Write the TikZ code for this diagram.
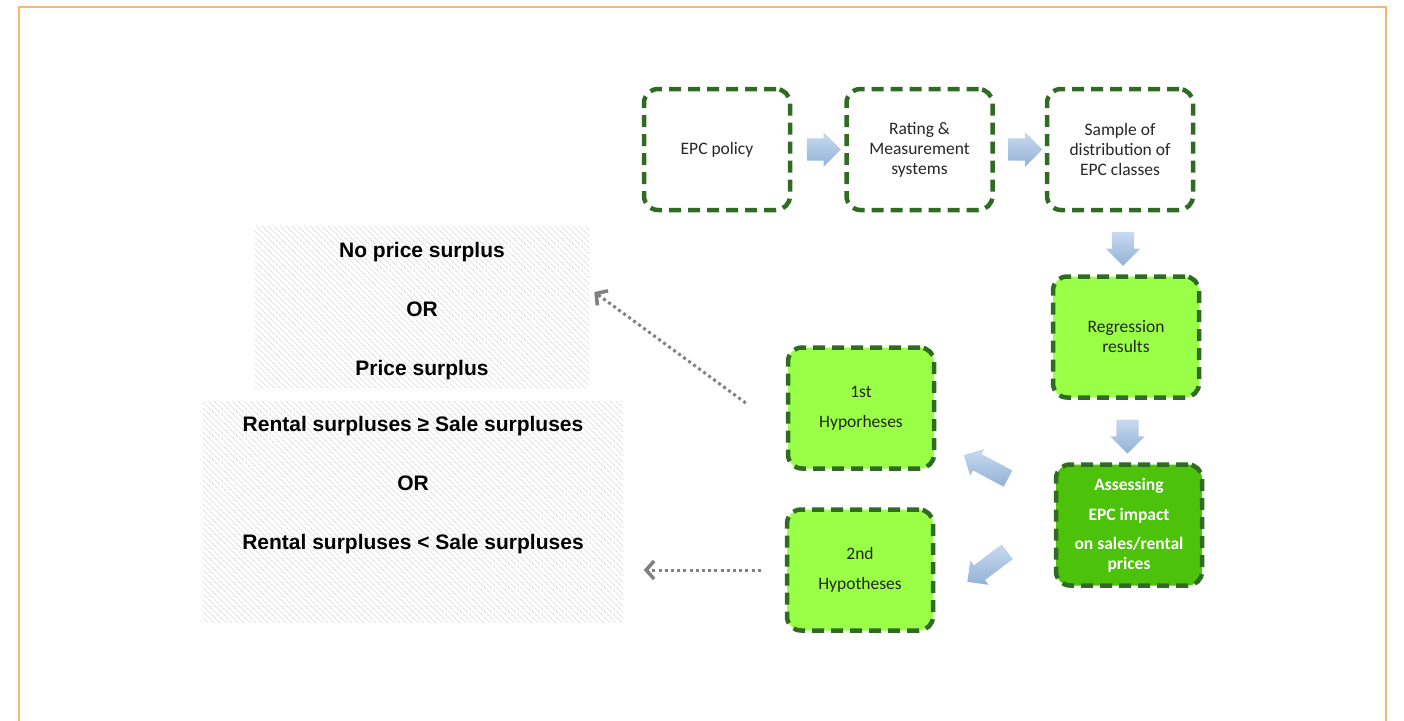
\documentclass[tikz,border=0pt]{standalone}
\usepackage{fontspec}
\setmainfont{Carlito}
\newfontfamily\arialfont{Liberation Sans}
\usetikzlibrary{shapes.arrows, arrows.meta, patterns.meta, calc}

\definecolor{epcborder}{HTML}{2F6B22}
\definecolor{lightfill}{HTML}{99FF47}
\definecolor{darkfill}{HTML}{4CC20A}
\definecolor{arrowtop}{HTML}{C8DAF0}
\definecolor{arrowbot}{HTML}{93B1D6}
\definecolor{dotgray}{HTML}{808080}
\definecolor{framecol}{HTML}{F7B76E}

\tikzset{
  stepbox/.style={rectangle, rounded corners=14pt, draw=epcborder, line width=4.5pt,
    dash pattern=on 12pt off 7pt, minimum width=146pt, minimum height=121pt,
    align=center, font=\fontsize{17.5}{20}\selectfont, text=black!85},
  blockarrow/.style={single arrow, minimum width=34pt, minimum height=34pt,
    single arrow head extend=6pt, inner xsep=0pt, inner ysep=11pt, top color=arrowtop,
    bottom color=arrowbot, draw=none},
  slantarrow/.style={blockarrow, minimum width=30pt, minimum height=50pt, inner ysep=9pt},
  hatchbox/.style={rectangle, draw=none, inner sep=0pt,
    pattern={Lines[angle=-45, distance=4pt, line width=0.6pt]}, pattern color=black!20},
  hatchtext/.style={align=center, font=\arialfont\bfseries\fontsize{21}{59}\selectfont},
  dotarrow/.style={dotgray, line width=3pt, dash pattern=on 3pt off 3.2pt,
    -{Straight Barb[length=8pt, width=18pt, line width=3.5pt]}}
}

\begin{document}
\begin{tikzpicture}[x=1pt, y=-1pt]
\useasboundingbox (0,0) rectangle (1404,720);
% Frame
    \draw[framecol, line width=2pt] (19,730) -- (19,7) -- (1386,7) -- (1386,730);
% Top row
    \node[stepbox] (epc) at (717,149.5) {EPC policy};
    \node[stepbox] (rating) at (919.5,149.5) {Rating \&\\ Measurement\\ systems};
    \node[stepbox] (sample) at (1120,149.5) {Sample of\\ distribution of\\ EPC classes};
% Right column
    \node[stepbox, fill=lightfill] (regr) at (1126,337) {Regression\\ results};
    \node[stepbox, fill=darkfill, text=white, font=\bfseries\fontsize{17.5}{20}\selectfont]
        (assess) at (1129,525) {Assessing\\[10pt] EPC impact\\[9pt] on sales/rental\\ prices};
% Hypotheses
    \node[stepbox, fill=lightfill, font=\fontsize{17.5}{30}\selectfont] (hyp1) at (861,408) {1st\\ Hyporheses};
    \node[stepbox, fill=lightfill, font=\fontsize{17.5}{30}\selectfont] (hyp2) at (860,570) {2nd\\ Hypotheses};
% Block arrows
    \node[blockarrow] (a1) at ($(epc)!0.5!(rating)$) {};
    \node[blockarrow] (a2) at ($(rating)!0.5!(sample)$) {};
    \node[blockarrow, rotate=-90] (a3) at ($(sample.south)!0.5!(regr.north)$) {};
    \node[blockarrow, rotate=-90] (a4) at ($(regr.south)!0.5!(assess.north)$) {};
    \node[slantarrow, rotate=152] (a5) at (990,469) {};
    \node[slantarrow, rotate=217] (a6) at (991,564) {};
% Outcomes
    \node[hatchbox, minimum width=334pt, minimum height=162pt] (surplus) at (422,307) {};
    \node[hatchtext] at ([yshift=-4pt]surplus.center) {No price surplus\\ OR\\ Price surplus};
    \node[hatchbox, minimum width=420pt, minimum height=221pt] (rental) at (413,511.5) {};
    \node[hatchtext] at ([yshift=26pt]rental.center) {Rental surpluses ≥ Sale surpluses\\ OR\\ Rental surpluses < Sale surpluses};
% Dotted links
    \coordinate (d1) at ([xshift=-40pt, yshift=5pt]hyp1.west);
    \coordinate (d2) at ([xshift=-24pt]hyp2.west);
    \draw[dotarrow] (d1) -- ([xshift=5pt, yshift=15pt]surplus.east);
    \draw[dotarrow] (d2) -- ([xshift=-117pt]d2);
\end{tikzpicture}
\end{document}
